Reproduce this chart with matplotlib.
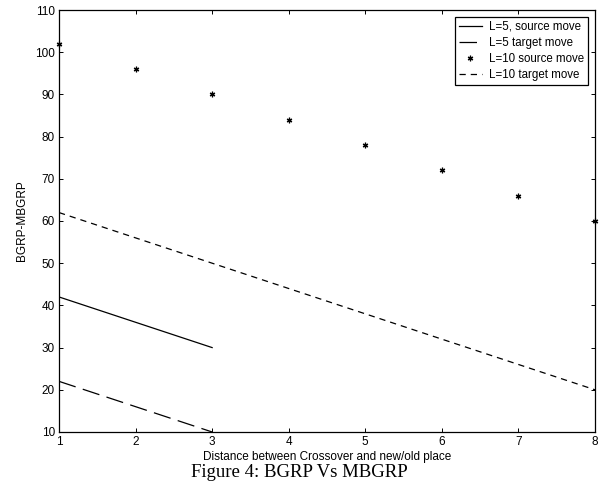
import matplotlib
matplotlib.use("Agg")
import matplotlib.pyplot as plt

x_l5 = [1, 2, 3]
l5_source = [42, 36, 30]
l5_target = [22, 16, 10]
x_l10 = [1, 2, 3, 4, 5, 6, 7, 8]
l10_source = [102, 96, 90, 84, 78, 72, 66, 60]
l10_target = [62, 56, 50, 44, 38, 32, 26, 20]
xticks = [1, 2, 3, 4, 5, 6, 7, 8]
yticks = [10, 20, 30, 40, 50, 60, 70, 80, 90, 100, 110]

plt.rcParams['font.family'] = ['Liberation Sans', 'DejaVu Sans']

fig = plt.figure(figsize=(5.99, 4.91), dpi=100)
ax = fig.add_axes([0.0985, 0.1202, 0.8948, 0.8594])

ax.plot(x_l5, l5_source, color='black', lw=0.9, label='L=5, source move')
ax.plot(x_l5, l5_target, color='black', lw=0.9, linestyle=(0, (14, 6)), label='L=5 target move')
ax.plot(x_l10, l10_source, color='black', linestyle='none', marker=(6, 2, 0), markersize=4,
        markeredgewidth=0.9, label='L=10 source move', clip_on=False)
ax.plot(x_l10, l10_source, color='black', linestyle='none', marker='o', markersize=1.8,
        markeredgewidth=0, clip_on=False)
ax.plot(x_l10, l10_target, color='black', lw=0.9, linestyle=(0, (5, 4)), label='L=10 target move')

ax.set_xlim(1, 8)
ax.set_ylim(10, 110)
ax.set_xticks(xticks)
ax.set_yticks(yticks)
ax.tick_params(direction='in', top=True, right=True, labelsize=8.5, length=3, width=0.7, pad=3)
for s in ax.spines.values():
    s.set_linewidth(0.9)

ax.set_xlabel('Distance between Crossover and new/old place', fontsize=8.5, labelpad=2)
ax.set_ylabel('BGRP-MBGRP', fontsize=8.5, labelpad=5)

leg = ax.legend(loc='upper right', fontsize=8.3, frameon=True, fancybox=False,
                edgecolor='black', framealpha=1, borderpad=0.35, labelspacing=0.35,
                handlelength=2.0, handletextpad=0.6, borderaxespad=0.6)
leg.get_frame().set_linewidth(0.9)

fig.text(0.5, 0.037, 'Figure 4: BGRP Vs MBGRP', ha='center', va='center',
         fontsize=13.5, family=['Liberation Serif', 'DejaVu Serif'])

fig.savefig('out.png', dpi=100)
